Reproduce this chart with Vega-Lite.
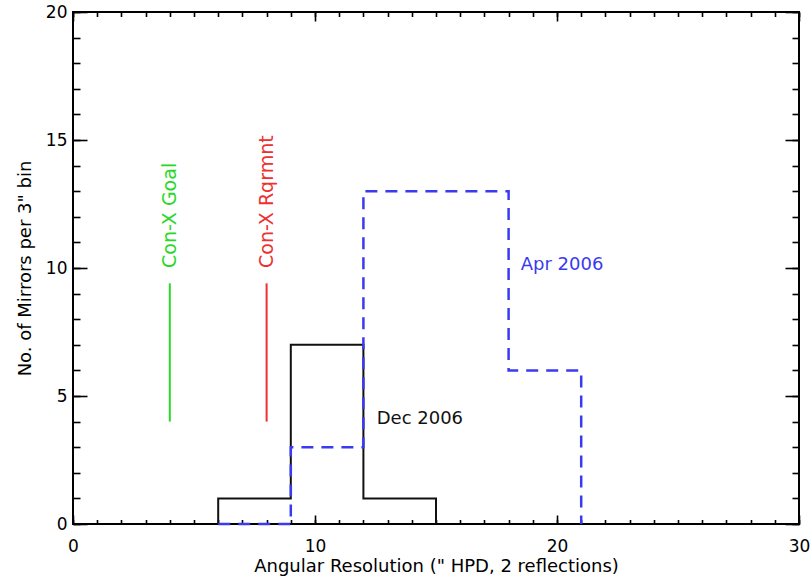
{
  "$schema": "https://vega.github.io/schema/vega-lite/v6.json",
  "width": 726,
  "height": 512,
  "autosize": "none",
  "padding": {"left": 73, "top": 12, "right": 12, "bottom": 55},
  "background": "white",
  "config": {
    "view": {"stroke": "black", "strokeWidth": 2},
    "axis": {
      "domain": false,
      "grid": false,
      "labelFlush": false,
      "tickColor": "black",
      "tickWidth": 1.6,
      "labelColor": "black",
      "titleColor": "black",
      "labelFont": "DejaVu Sans",
      "titleFont": "DejaVu Sans",
      "labelFontSize": 17,
      "titleFontSize": 18,
      "titleFontWeight": "normal"
    },
    "text": {"font": "DejaVu Sans"}
  },
  "datasets": {
    "steps": [
      {"series": "Dec 2006", "ord": 0, "x": 6, "y": 0},
      {"series": "Dec 2006", "ord": 1, "x": 6, "y": 1},
      {"series": "Dec 2006", "ord": 2, "x": 9, "y": 7},
      {"series": "Dec 2006", "ord": 3, "x": 12, "y": 1},
      {"series": "Dec 2006", "ord": 4, "x": 15, "y": 0},
      {"series": "Apr 2006", "ord": 0, "x": 6, "y": 0},
      {"series": "Apr 2006", "ord": 1, "x": 9, "y": 3},
      {"series": "Apr 2006", "ord": 2, "x": 12, "y": 13},
      {"series": "Apr 2006", "ord": 3, "x": 18, "y": 6},
      {"series": "Apr 2006", "ord": 4, "x": 21, "y": 0}
    ],
    "reqs": [
      {"name": "Con-X Goal", "x": 4, "y": 4, "y2": 9.4},
      {"name": "Con-X Rqrmnt", "x": 8, "y": 4, "y2": 9.4}
    ],
    "labels": [
      {"label": "Con-X Goal", "x": 4, "y": 10},
      {"label": "Con-X Rqrmnt", "x": 8, "y": 10},
      {"label": "Dec 2006", "x": 12.55, "y": 4.1},
      {"label": "Apr 2006", "x": 18.5, "y": 10.1}
    ]
  },
  "resolve": {"axis": {"x": "independent", "y": "independent"}},
  "layer": [
    {
      "data": {"name": "steps"},
      "transform": [{"filter": "datum.series === 'Dec 2006'"}],
      "mark": {"type": "line", "interpolate": "step-after", "color": "#111111", "strokeWidth": 2},
      "encoding": {
        "x": {"field": "x", "type": "quantitative", "scale": {"domain": [0, 30], "nice": false},
          "axis": {"orient": "bottom", "values": [0, 10, 20, 30], "tickSize": -9, "labelPadding": 23, "title": "Angular Resolution (\" HPD, 2 reflections)", "titlePadding": 3}},
        "y": {"field": "y", "type": "quantitative", "scale": {"domain": [0, 20], "nice": false},
          "axis": {"orient": "left", "values": [0, 5, 10, 15, 20], "tickSize": -14, "labelPadding": 20, "title": "No. of Mirrors per 3\" bin", "titlePadding": 11}},
        "order": {"field": "ord", "type": "quantitative"}
      }
    },
    {
      "data": {"name": "steps"},
      "transform": [{"filter": "datum.series === 'Apr 2006'"}],
      "mark": {"type": "line", "interpolate": "step-after", "color": "#3a3af0", "strokeWidth": 2.5, "strokeDash": [12, 8]},
      "encoding": {
        "x": {"field": "x", "type": "quantitative", "scale": {"domain": [0, 30], "nice": false},
          "axis": {"orient": "bottom", "values": [0,1,2,3,4,5,6,7,8,9,10,11,12,13,14,15,16,17,18,19,20,21,22,23,24,25,26,27,28,29,30], "tickSize": -4.5, "labels": false, "title": null}},
        "y": {"field": "y", "type": "quantitative", "scale": {"domain": [0, 20], "nice": false},
          "axis": {"orient": "left", "values": [0,1,2,3,4,5,6,7,8,9,10,11,12,13,14,15,16,17,18,19,20], "tickSize": -7, "labels": false, "title": null}},
        "order": {"field": "ord", "type": "quantitative"}
      }
    },
    {
      "data": {"name": "reqs"},
      "transform": [{"filter": "datum.name === 'Con-X Goal'"}],
      "mark": {"type": "rule", "color": "#2ad82a", "strokeWidth": 2},
      "encoding": {
        "x": {"field": "x", "type": "quantitative", "scale": {"domain": [0, 30], "nice": false},
          "axis": {"orient": "top", "values": [0, 10, 20, 30], "tickSize": -9, "labels": false, "title": null}},
        "y": {"field": "y", "type": "quantitative", "scale": {"domain": [0, 20], "nice": false},
          "axis": {"orient": "right", "values": [0, 5, 10, 15, 20], "tickSize": -14, "labels": false, "title": null}},
        "y2": {"field": "y2"}
      }
    },
    {
      "data": {"name": "reqs"},
      "transform": [{"filter": "datum.name === 'Con-X Rqrmnt'"}],
      "mark": {"type": "rule", "color": "#ee3030", "strokeWidth": 2},
      "encoding": {
        "x": {"field": "x", "type": "quantitative", "scale": {"domain": [0, 30], "nice": false},
          "axis": {"orient": "top", "values": [0,1,2,3,4,5,6,7,8,9,10,11,12,13,14,15,16,17,18,19,20,21,22,23,24,25,26,27,28,29,30], "tickSize": -4.5, "labels": false, "title": null}},
        "y": {"field": "y", "type": "quantitative", "scale": {"domain": [0, 20], "nice": false},
          "axis": {"orient": "right", "values": [0,1,2,3,4,5,6,7,8,9,10,11,12,13,14,15,16,17,18,19,20], "tickSize": -7, "labels": false, "title": null}},
        "y2": {"field": "y2"}
      }
    },
    {
      "data": {"name": "labels"},
      "transform": [{"filter": "datum.label === 'Con-X Goal'"}],
      "mark": {"type": "text", "angle": 270, "align": "left", "baseline": "middle", "fontSize": 19, "color": "#2ad82a"},
      "encoding": {
        "x": {"field": "x", "type": "quantitative", "axis": null},
        "y": {"field": "y", "type": "quantitative", "axis": null},
        "text": {"field": "label"}
      }
    },
    {
      "data": {"name": "labels"},
      "transform": [{"filter": "datum.label === 'Con-X Rqrmnt'"}],
      "mark": {"type": "text", "angle": 270, "align": "left", "baseline": "middle", "fontSize": 19, "color": "#ee3030"},
      "encoding": {
        "x": {"field": "x", "type": "quantitative", "axis": null},
        "y": {"field": "y", "type": "quantitative", "axis": null},
        "text": {"field": "label"}
      }
    },
    {
      "data": {"name": "labels"},
      "transform": [{"filter": "datum.label === 'Dec 2006'"}],
      "mark": {"type": "text", "align": "left", "baseline": "middle", "fontSize": 18, "color": "#111111"},
      "encoding": {
        "x": {"field": "x", "type": "quantitative", "axis": null},
        "y": {"field": "y", "type": "quantitative", "axis": null},
        "text": {"field": "label"}
      }
    },
    {
      "data": {"name": "labels"},
      "transform": [{"filter": "datum.label === 'Apr 2006'"}],
      "mark": {"type": "text", "align": "left", "baseline": "middle", "fontSize": 18, "color": "#3a3af0"},
      "encoding": {
        "x": {"field": "x", "type": "quantitative", "axis": null},
        "y": {"field": "y", "type": "quantitative", "axis": null},
        "text": {"field": "label"}
      }
    }
  ]
}
